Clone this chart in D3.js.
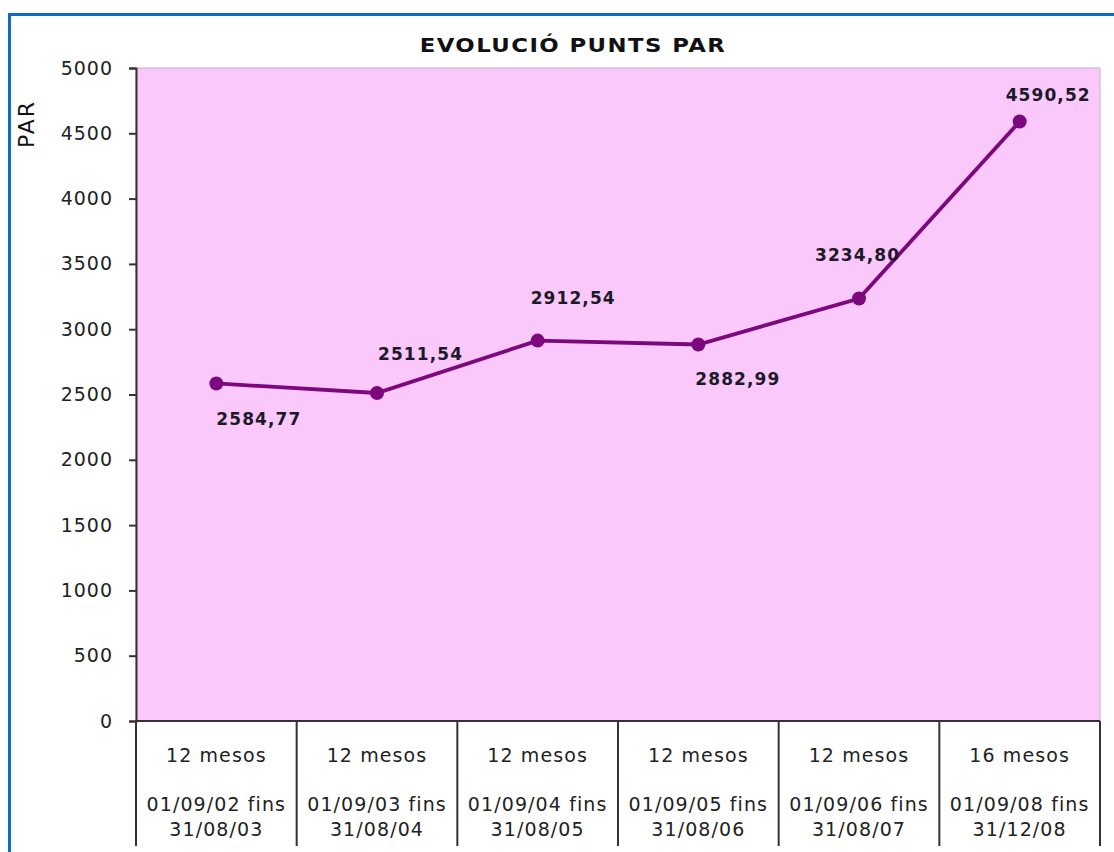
<!DOCTYPE html>
<html>
<head>
<meta charset="utf-8">
<script src="https://cdn.jsdelivr.net/npm/d3@7"></script>
<style>
    body { margin: 0; background: #fff; }
    svg { display: block; }
    text { font-family: "DejaVu Sans", Verdana, sans-serif; }
</style>
</head>
<body>
<svg></svg>
<script>
let periods = ["12 mesos", "12 mesos", "12 mesos", "12 mesos", "12 mesos", "16 mesos"];
let dateFrom = ["01/09/02 fins", "01/09/03 fins", "01/09/04 fins", "01/09/05 fins", "01/09/06 fins", "01/09/08 fins"];
let dateTo = ["31/08/03", "31/08/04", "31/08/05", "31/08/06", "31/08/07", "31/12/08"];
let parValues = [2584.77, 2511.54, 2912.54, 2882.99, 3234.80, 4590.52];
let yTicks = [0, 500, 1000, 1500, 2000, 2500, 3000, 3500, 4000, 4500, 5000];

// where each data label sits, relative to its point (Excel placement)
let labelOffsets = [[0, 42], [1, -33], [-7, -37], [-3, 41], [-44, -38], [-14, -20]];

let width = 1114;
let height = 852;
let plotLeft = 136;
let plotRight = 1100;
let plotTop = 68;
let plotBottom = 721;

let svg = d3.select("svg")
    .attr("width", width)
    .attr("height", height);

let cats = d3.range(parValues.length);

let xScale = d3.scaleBand()
    .domain(cats)
    .range([plotLeft, plotRight])
    .padding(0);

let yScale = d3.scaleLinear()
    .domain([0, 5000])
    .range([plotBottom, plotTop]);

let fmt = v => v.toFixed(2).replace(".", ",");

// outer blue frame
svg.append("rect")
    .attr("x", 9.5)
    .attr("y", 14.5)
    .attr("width", 1200)
    .attr("height", 900)
    .attr("fill", "none")
    .attr("stroke", "#0a6cc4")
    .attr("stroke-width", 3);

// plot area
svg.append("rect")
    .attr("x", plotLeft)
    .attr("y", plotTop)
    .attr("width", plotRight - plotLeft)
    .attr("height", plotBottom - plotTop)
    .attr("fill", "#fbc8fb")
    .attr("stroke", "#c8b0c8")
    .attr("stroke-width", 1);

// title
svg.append("text")
    .attr("transform", "translate(573, 52) scale(1.2, 1)")
    .attr("text-anchor", "middle")
    .attr("font-size", 19)
    .attr("font-weight", "bold")
    .attr("letter-spacing", 1.2)
    .attr("fill", "#111")
    .text("EVOLUCIÓ PUNTS PAR");

// y axis title
svg.append("text")
    .attr("transform", "translate(34, 124) rotate(-90)")
    .attr("text-anchor", "middle")
    .attr("font-size", 22)
    .attr("letter-spacing", 2)
    .attr("fill", "#111")
    .text("PAR");

// y axis
let yAxis = d3.axisLeft(yScale)
    .tickValues(yTicks)
    .tickSize(7)
    .tickPadding(16)
    .tickFormat(d3.format("d"));

let gy = svg.append("g")
    .attr("transform", `translate(${plotLeft}, 0)`)
    .call(yAxis);

gy.select(".domain").attr("stroke", "#333").attr("stroke-width", 2);
gy.selectAll(".tick line").attr("stroke", "#333").attr("stroke-width", 2);
gy.selectAll(".tick text")
    .attr("font-size", 19)
    .attr("letter-spacing", 1)
    .attr("font-family", "DejaVu Sans")
    .attr("fill", "#222");

// category axis, drawn as a table
svg.append("line")
    .attr("x1", plotLeft)
    .attr("x2", plotRight)
    .attr("y1", plotBottom)
    .attr("y2", plotBottom)
    .attr("stroke", "#333")
    .attr("stroke-width", 2);

let edges = cats.map(d => xScale(d)).concat([plotRight]);

svg.selectAll(".divider")
    .data(edges)
    .enter()
    .append("line")
    .attr("class", "divider")
    .attr("x1", d => d)
    .attr("x2", d => d)
    .attr("y1", plotBottom)
    .attr("y2", 846)
    .attr("stroke", "#333")
    .attr("stroke-width", 2);

let catLabels = svg.selectAll(".cat")
    .data(cats)
    .enter()
    .append("text")
    .attr("class", "cat")
    .attr("text-anchor", "middle")
    .attr("font-size", 19)
    .attr("letter-spacing", 1.1)
    .attr("fill", "#222");

catLabels.append("tspan")
    .attr("x", d => xScale(d) + xScale.bandwidth() / 2)
    .attr("y", 762)
    .text(d => periods[d]);

catLabels.append("tspan")
    .attr("x", d => xScale(d) + xScale.bandwidth() / 2)
    .attr("y", 811)
    .text(d => dateFrom[d]);

catLabels.append("tspan")
    .attr("x", d => xScale(d) + xScale.bandwidth() / 2)
    .attr("y", 836)
    .text(d => dateTo[d]);

// line and points
let cx = d => xScale(d) + xScale.bandwidth() / 2;

let line = d3.line()
    .x(d => cx(d))
    .y(d => yScale(parValues[d]));

svg.append("path")
    .datum(cats)
    .attr("d", line)
    .attr("fill", "none")
    .attr("stroke", "#7d087d")
    .attr("stroke-width", 3.8);

svg.selectAll(".dot")
    .data(cats)
    .enter()
    .append("circle")
    .attr("class", "dot")
    .attr("cx", d => cx(d))
    .attr("cy", d => yScale(parValues[d]))
    .attr("r", 7)
    .attr("fill", "#7d087d");

// data labels
svg.selectAll(".val")
    .data(cats)
    .enter()
    .append("text")
    .attr("class", "val")
    .attr("x", d => cx(d) + labelOffsets[d][0])
    .attr("y", d => yScale(parValues[d]) + labelOffsets[d][1])
    .attr("font-size", 17)
    .attr("font-weight", "bold")
    .attr("letter-spacing", 1.1)
    .attr("fill", "#1c1a28")
    .text(d => fmt(parValues[d]));
</script>
</body>
</html>
